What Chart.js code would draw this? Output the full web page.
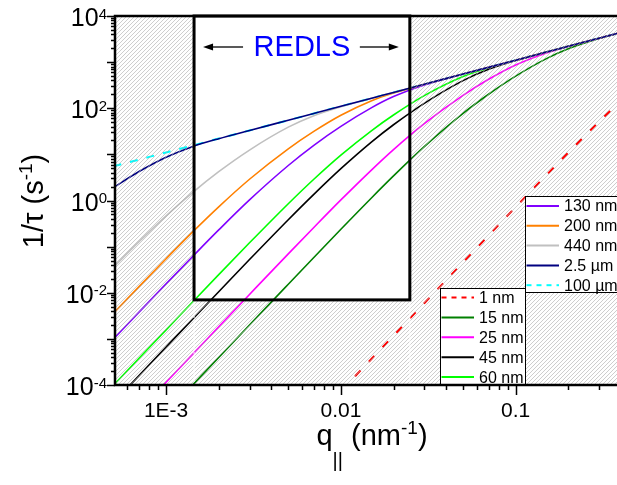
<!DOCTYPE html>
<html lang="en">
  <head>
    <meta charset="UTF-8" />
    <title>Relaxation rate vs q</title>
    <script src="https://cdn.jsdelivr.net/npm/chart.js@4.4.0/dist/chart.umd.min.js"></script>
    <style>
      body { margin: 0; background: #fff; }
    </style>
  </head>
  <body>
    <canvas id="rate" width="617" height="485"></canvas>

    <script>
      // wave vector q|| (nm^-1)
      const qValues = [5e-4, 7e-4, 1e-3, 1.4e-3, 2e-3, 3e-3, 5e-3, 7e-3, 0.01, 0.015, 0.02, 0.03, 0.05, 0.07, 0.1, 0.15, 0.2, 0.3, 0.4]

      // 1/tau (s^-1)
      const rate1nm = [null, null, null, null, null, null, null, 1.76e-5, 7.33e-5, 3.71e-4, 1.17e-3, 5.93e-3, 0.0456, 0.175, 0.72, 3.56, 10.9, 51.1, 146]
      const rate15nm = [1.55e-6, 5.94e-6, 2.48e-5, 9.51e-5, 3.95e-4, 2.0e-3, 0.0153, 0.0583, 0.238, 1.15, 3.41, 14.7, 77.3, 201, 496, 1190, 1951, 3259, 4395]
      const rate25nm = [7.16e-6, 2.75e-5, 1.15e-4, 4.39e-4, 1.83e-3, 9.19e-3, 0.0696, 0.26, 1.03, 4.63, 12.7, 46.4, 190, 424, 868, 1585, 2188, 3300, 4400]
      const rate45nm = [4.18e-5, 1.6e-4, 6.66e-4, 2.55e-3, 0.0105, 0.0524, 0.383, 1.36, 4.9, 18.7, 43.9, 128, 397, 699, 1087, 1650, 2200, 3300, 4400]
      const rate60nm = [9.9e-5, 3.8e-4, 1.57e-3, 6.0e-3, 0.0247, 0.121, 0.852, 2.89, 9.64, 32.9, 71.5, 188, 488, 755, 1099, 1650, 2200, 3300, 4400]
      const rate130nm = [1.0e-3, 3.81e-3, 0.0156, 0.0582, 0.23, 1.03, 5.74, 15.7, 40.4, 103, 179, 320, 550, 770, 1100, 1650, 2200, 3300, 4400]
      const rate200nm = [3.6e-3, 0.0136, 0.0547, 0.198, 0.729, 2.89, 13.2, 31.5, 70.6, 146, 214, 330, 550, 770, 1100, 1650, 2200, 3300, 4400]
      const rate440nm = [0.0359, 0.128, 0.464, 1.43, 4.21, 12.4, 38.9, 69.1, 108, 165, 220, 330, 550, 770, 1100, 1650, 2200, 3300, 4400]
      const rate2_5um = [1.9, 4.24, 8.68, 14.5, 21.9, 33, 55, 77, 110, 165, 220, 330, 550, 770, 1100, 1650, 2200, 3300, 4400]
      const rate100um = [5.5, 7.7, 11, 15.4, 22, 33, 55, 77, 110, 165, 220, 330, 550, 770, 1100, 1650, 2200, 3300, 4400]

      // REDLS window
      const redlsRange = [1.445e-3, 0.0248]
      const redlsFloor = 7e-3

      const xTickValues = [1e-3, 1e-2, 1e-1]
      const xTickLabels = ['1E-3', '0.01', '0.1']
      const yTickValues = [1e4, 1e2, 1, 1e-2, 1e-4]
      const yTickExponents = ['4', '2', '0', '-2', '-4']

      const legendTop = ['130 nm', '200 nm', '440 nm', '2.5 µm', '100 µm']
      const legendBottom = ['1 nm', '15 nm', '25 nm', '45 nm', '60 nm']

      const FONT = '"Liberation Sans", Arial, sans-serif'

      const SERIES = [
        { label: '1 nm', values: rate1nm, color: '#ff0000', dash: [8, 12], order: 9 },
        { label: '15 nm', values: rate15nm, color: '#008000', order: 8 },
        { label: '25 nm', values: rate25nm, color: '#ff00ff', order: 7 },
        { label: '45 nm', values: rate45nm, color: '#000000', order: 6 },
        { label: '60 nm', values: rate60nm, color: '#00ff00', order: 5 },
        { label: '130 nm', values: rate130nm, color: '#8000ff', order: 4 },
        { label: '200 nm', values: rate200nm, color: '#ff8000', order: 3 },
        { label: '440 nm', values: rate440nm, color: '#c0c0c0', order: 2 },
        { label: '2.5 µm', values: rate2_5um, color: '#000080', order: 0 },
        { label: '100 µm', values: rate100um, color: '#00ffff', dash: [8, 9], order: 10 },
      ]

      function styleOf(label) {
        return SERIES.find((s) => s.label === label)
      }

      function richText(ctx, parts, cx, base) {
        let w = 0
        parts.forEach((p) => {
          ctx.font = p.size + 'px ' + FONT
          p.w = ctx.measureText(p.t).width
          w += p.w
        })
        let px = cx - w / 2
        ctx.textAlign = 'left'
        ctx.textBaseline = 'alphabetic'
        parts.forEach((p) => {
          ctx.font = p.size + 'px ' + FONT
          ctx.fillText(p.t, px, base + (p.dy || 0))
          px += p.w
        })
      }

      function arrow(ctx, from, to, yy) {
        const dir = Math.sign(to - from)
        ctx.beginPath()
        ctx.moveTo(from, yy)
        ctx.lineTo(to - dir * 8, yy)
        ctx.stroke()
        ctx.beginPath()
        ctx.moveTo(to, yy)
        ctx.lineTo(to - dir * 10, yy - 3.5)
        ctx.lineTo(to - dir * 10, yy + 3.5)
        ctx.closePath()
        ctx.fill()
      }

      function drawLegend(ctx, labels, left, top, right, bottom, rowTop, rowStep, lineEnd, textX) {
        ctx.fillStyle = '#fff'
        ctx.fillRect(left, top, right - left, bottom - top)
        ctx.strokeStyle = '#000'
        ctx.lineWidth = 1
        ctx.setLineDash([])
        ctx.strokeRect(left, top, right - left, bottom - top)
        labels.forEach((lab, i) => {
          const s = styleOf(lab)
          const yy = rowTop + i * rowStep
          ctx.strokeStyle = s.color
          ctx.lineWidth = 2
          ctx.setLineDash(s.dash ? [5, 5] : [])
          ctx.beginPath()
          ctx.moveTo(left + 1, yy)
          ctx.lineTo(lineEnd, yy)
          ctx.stroke()
          ctx.setLineDash([])
          ctx.fillStyle = '#000'
          ctx.font = '16px ' + FONT
          ctx.textAlign = 'left'
          ctx.textBaseline = 'middle'
          ctx.fillText(lab, textX, yy + 1)
        })
      }

      const decor = {
        id: 'decor',
        afterDatasetsDraw(chart) {
          const { ctx, chartArea: a, scales } = chart
          const x = scales.x
          const y = scales.y
          const bl = x.getPixelForValue(redlsRange[0])
          const br = x.getPixelForValue(redlsRange[1])
          const bb = y.getPixelForValue(redlsFloor)

          // hatch outside the REDLS window
          ctx.save()
          ctx.beginPath()
          ctx.rect(a.left, a.top, a.right - a.left, a.bottom - a.top)
          ctx.rect(bl, a.top, br - bl, bb - a.top)
          ctx.clip('evenodd')
          ctx.strokeStyle = 'rgba(165,165,165,0.55)'
          ctx.lineWidth = 1
          const h = a.bottom - a.top
          ctx.beginPath()
          for (let s = a.left - h; s < a.right; s += 4) {
            ctx.moveTo(s, a.bottom)
            ctx.lineTo(s + h, a.top)
          }
          ctx.stroke()
          ctx.restore()

          ctx.save()
          // white dotted guides below the window
          ctx.strokeStyle = '#fff'
          ctx.lineWidth = 1
          ctx.setLineDash([2, 2])
          ctx.beginPath()
          ctx.moveTo(bl, bb)
          ctx.lineTo(bl, a.bottom)
          ctx.moveTo(br, bb)
          ctx.lineTo(br, a.bottom)
          ctx.stroke()
          ctx.setLineDash([])

          // window frame
          ctx.strokeStyle = '#000'
          ctx.lineWidth = 3
          ctx.strokeRect(bl, a.top, br - bl, bb - a.top)

          // REDLS label with arrows
          ctx.fillStyle = '#0000ff'
          richText(ctx, [{ t: 'REDLS', size: 29 }], (bl + br) / 2, a.top + 40)
          ctx.strokeStyle = '#222'
          ctx.fillStyle = '#000'
          ctx.lineWidth = 1.5
          arrow(ctx, bl + 49, bl + 9, a.top + 31)
          arrow(ctx, br - 50, br - 11, a.top + 31)

          // legends
          drawLegend(ctx, legendBottom, 440.5, 288.5, 525.5, a.bottom, 297.5, 19.9, 474, 479)
          drawLegend(ctx, legendTop, 525.5, 196.5, 625, 292.5, 206, 19.8, 559, 564)

          // axis frame
          ctx.strokeStyle = '#000'
          ctx.lineWidth = 2.5
          ctx.beginPath()
          ctx.moveTo(a.right + 5, a.top)
          ctx.lineTo(a.left, a.top)
          ctx.lineTo(a.left, a.bottom)
          ctx.lineTo(a.right + 5, a.bottom)
          ctx.stroke()

          // ticks
          ctx.lineWidth = 1.5
          ctx.beginPath()
          for (let d = -4; d <= 4; d++) {
            for (let m = 1; m <= 9; m++) {
              const v = m * Math.pow(10, d)
              if (v < 1e-4 || v > 1e4) continue
              const py = Math.round(y.getPixelForValue(v)) + 0.5
              const len = m === 1 ? 8 : 4
              ctx.moveTo(a.left, py)
              ctx.lineTo(a.left - len, py)
            }
          }
          for (let d = -4; d <= -1; d++) {
            for (let m = 1; m <= 9; m++) {
              const v = m * Math.pow(10, d)
              if (v < x.min || v > x.max) continue
              const px = Math.round(x.getPixelForValue(v)) + 0.5
              const len = m === 1 ? 10 : 5
              ctx.moveTo(px, a.bottom)
              ctx.lineTo(px, a.bottom + len)
            }
          }
          ctx.stroke()

          // tick labels
          ctx.fillStyle = '#000'
          yTickValues.forEach((v, i) => {
            const py = y.getPixelForValue(v)
            ctx.textAlign = 'right'
            ctx.textBaseline = 'alphabetic'
            ctx.font = '15px ' + FONT
            const sw = ctx.measureText(yTickExponents[i]).width
            ctx.fillText(yTickExponents[i], 107, py + 2.5)
            ctx.font = '25px ' + FONT
            ctx.fillText('10', 107 - sw, py + 10)
          })
          xTickValues.forEach((v, i) => {
            ctx.font = '21px ' + FONT
            ctx.textAlign = 'center'
            ctx.textBaseline = 'alphabetic'
            ctx.fillText(xTickLabels[i], x.getPixelForValue(v), 417)
          })

          // axis titles
          richText(
            ctx,
            [
              { t: 'q', size: 29 },
              { t: '||', size: 20, dy: 22 },
              { t: ' (nm', size: 29 },
              { t: '-1', size: 19, dy: -11 },
              { t: ')', size: 29 },
            ],
            372,
            445
          )
          ctx.save()
          ctx.translate(43, 201)
          ctx.rotate(-Math.PI / 2)
          richText(
            ctx,
            [
              { t: '1/τ (s', size: 29 },
              { t: '-1', size: 19, dy: -11 },
              { t: ')', size: 29 },
            ],
            0,
            0
          )
          ctx.restore()
          ctx.restore()
        },
      }

      new Chart(document.getElementById('rate').getContext('2d'), {
        type: 'line',
        data: {
          datasets: SERIES.map((s) => ({
            label: s.label,
            data: qValues.map((q, i) => ({ x: q, y: s.values[i] })),
            borderColor: s.color,
            borderWidth: s.dash ? 2 : 1.6,
            borderDash: s.dash || [],
            pointRadius: 0,
            cubicInterpolationMode: 'monotone',
            order: s.order,
            clip: 0,
          })),
        },
        options: {
          responsive: false,
          animation: false,
          events: [],
          layout: { padding: { left: 115, top: 16, right: 0, bottom: 100 } },
          scales: {
            x: { type: 'logarithmic', min: 5.1e-4, max: 0.38, display: false },
            y: { type: 'logarithmic', min: 1e-4, max: 1e4, display: false },
          },
          plugins: {
            legend: { display: false },
            tooltip: { enabled: false },
          },
        },
        plugins: [decor],
      })
    </script>
  </body>
</html>
